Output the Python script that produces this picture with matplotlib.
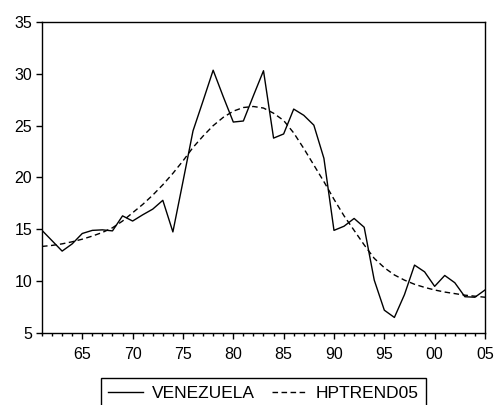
import matplotlib
matplotlib.use("Agg")
import matplotlib.pyplot as plt
from matplotlib.ticker import MultipleLocator, FuncFormatter

years = list(range(1961, 2006))

venezuela = [14.9, 13.9, 12.9, 13.6, 14.6, 14.9, 14.95, 14.85, 16.3, 15.8,
             16.4, 16.95, 17.8, 14.75, 19.6, 24.5, 27.4, 30.35, 27.8, 25.35,
             25.45, 27.9, 30.3, 23.8, 24.2, 26.6, 26.0, 25.05, 21.85, 14.9,
             15.3, 16.05, 15.2, 10.1, 7.2, 6.5, 8.7, 11.55, 10.9, 9.5,
             10.55, 9.85, 8.5, 8.45, 9.15]

hptrend05 = [13.35, 13.45, 13.6, 13.8, 14.05, 14.35, 14.7, 15.15, 15.8, 16.6,
             17.4, 18.3, 19.3, 20.4, 21.6, 22.9, 24.0, 25.0, 25.8, 26.4,
             26.75, 26.85, 26.7, 26.2, 25.5, 24.3, 22.8, 21.2, 19.6, 17.9,
             16.3, 14.9, 13.5, 12.2, 11.3, 10.6, 10.1, 9.7, 9.4, 9.15,
             8.95, 8.8, 8.65, 8.55, 8.45]

plt.rcParams['font.family'] = ['Liberation Sans', 'DejaVu Sans']
plt.rcParams['font.size'] = 11.5

fig = plt.figure(figsize=(4.97, 4.05), dpi=100)
ax = fig.add_axes([42 / 497, 1 - 333 / 405, 443 / 497, 311 / 405])

ax.plot(years, venezuela, color='black', lw=1.0, label='VENEZUELA')
ax.plot(years, hptrend05, color='black', lw=1.0, linestyle=(0, (4, 2.5)),
        label='HPTREND05')

ax.set_xlim(1961, 2005)
ax.set_ylim(5, 35)
ax.xaxis.set_major_locator(MultipleLocator(5))
ax.xaxis.set_minor_locator(MultipleLocator(1))
ax.xaxis.set_major_formatter(FuncFormatter(lambda v, p: f"{int(round(v)) % 100:02d}"))
ax.yaxis.set_major_locator(MultipleLocator(5))

ax.tick_params(axis='both', which='major', direction='out', length=4,
               width=1, color='black', labelsize=11.5, pad=3)
ax.tick_params(axis='x', which='minor', direction='out', length=2.5, width=1)
ax.tick_params(axis='x', pad=6)
for s in ax.spines.values():
    s.set_linewidth(1.0)

fig.legend(loc='upper center', bbox_to_anchor=(263.5 / 497, 1 - 378 / 405),
           ncol=2, frameon=True, fancybox=False, edgecolor='black',
           framealpha=1, fontsize=12.5, handlelength=2.0, handletextpad=0.5,
           columnspacing=1.0, borderpad=0.45, borderaxespad=0)

fig.savefig('out.png', dpi=100)
